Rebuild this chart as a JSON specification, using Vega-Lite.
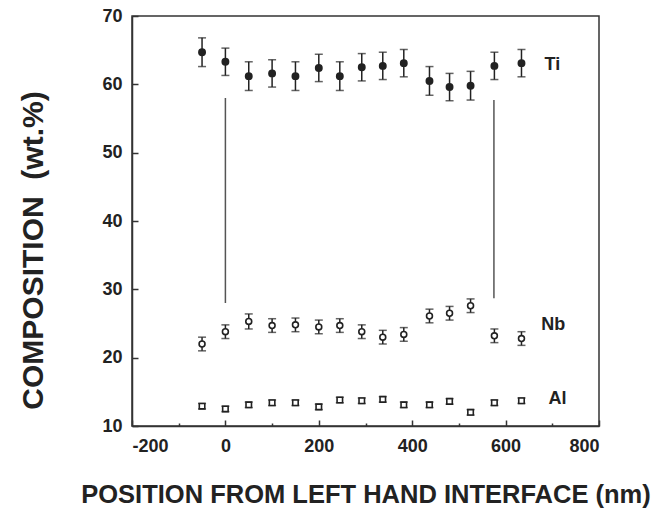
{
  "$schema": "https://vega.github.io/schema/vega-lite/v6.json",
  "width": 467,
  "height": 410,
  "autosize": "none",
  "padding": {"left": 132, "top": 16, "right": 62, "bottom": 89},
  "background": "white",
  "config": {
    "view": {"stroke": "#333", "strokeWidth": 1.5},
    "font": "Liberation Sans",
    "axis": {
      "domainColor": "#333", "domainWidth": 1.5, "tickColor": "#333", "tickWidth": 1.5,
      "labelFont": "Liberation Sans", "labelFontWeight": "bold", "labelFontSize": 18, "labelColor": "#222",
      "titleFont": "Liberation Sans", "titleColor": "#222", "grid": false
    }
  },
  "datasets": {
    "pts": [
      {"el": "Ti", "x": -50, "y": 64.7, "lo": 62.6, "hi": 66.8},
      {"el": "Ti", "x": 0, "y": 63.3, "lo": 61.3, "hi": 65.3},
      {"el": "Ti", "x": 50, "y": 61.2, "lo": 59.1, "hi": 63.3},
      {"el": "Ti", "x": 100, "y": 61.6, "lo": 59.6, "hi": 63.6},
      {"el": "Ti", "x": 150, "y": 61.2, "lo": 59.1, "hi": 63.3},
      {"el": "Ti", "x": 200, "y": 62.4, "lo": 60.4, "hi": 64.4},
      {"el": "Ti", "x": 245, "y": 61.2, "lo": 59.1, "hi": 63.3},
      {"el": "Ti", "x": 292, "y": 62.5, "lo": 60.5, "hi": 64.5},
      {"el": "Ti", "x": 337, "y": 62.7, "lo": 60.7, "hi": 64.7},
      {"el": "Ti", "x": 382, "y": 63.1, "lo": 61.1, "hi": 65.1},
      {"el": "Ti", "x": 437, "y": 60.5, "lo": 58.4, "hi": 62.6},
      {"el": "Ti", "x": 480, "y": 59.6, "lo": 57.6, "hi": 61.6},
      {"el": "Ti", "x": 525, "y": 59.8, "lo": 57.7, "hi": 61.9},
      {"el": "Ti", "x": 576, "y": 62.7, "lo": 60.7, "hi": 64.7},
      {"el": "Ti", "x": 634, "y": 63.1, "lo": 61.1, "hi": 65.1},
      {"el": "Nb", "x": -50, "y": 22.0, "lo": 21.0, "hi": 23.0},
      {"el": "Nb", "x": 0, "y": 23.8, "lo": 22.8, "hi": 24.8},
      {"el": "Nb", "x": 50, "y": 25.3, "lo": 24.2, "hi": 26.4},
      {"el": "Nb", "x": 100, "y": 24.7, "lo": 23.7, "hi": 25.7},
      {"el": "Nb", "x": 150, "y": 24.8, "lo": 23.8, "hi": 25.8},
      {"el": "Nb", "x": 200, "y": 24.5, "lo": 23.5, "hi": 25.5},
      {"el": "Nb", "x": 245, "y": 24.7, "lo": 23.7, "hi": 25.7},
      {"el": "Nb", "x": 292, "y": 23.8, "lo": 22.8, "hi": 24.8},
      {"el": "Nb", "x": 337, "y": 23.0, "lo": 22.0, "hi": 24.0},
      {"el": "Nb", "x": 382, "y": 23.4, "lo": 22.4, "hi": 24.4},
      {"el": "Nb", "x": 437, "y": 26.1, "lo": 25.1, "hi": 27.1},
      {"el": "Nb", "x": 480, "y": 26.5, "lo": 25.5, "hi": 27.5},
      {"el": "Nb", "x": 525, "y": 27.6, "lo": 26.6, "hi": 28.6},
      {"el": "Nb", "x": 576, "y": 23.2, "lo": 22.2, "hi": 24.2},
      {"el": "Nb", "x": 634, "y": 22.8, "lo": 21.8, "hi": 23.8},
      {"el": "Al", "x": -50, "y": 12.9, "lo": 12.5, "hi": 13.3},
      {"el": "Al", "x": 0, "y": 12.5, "lo": 12.1, "hi": 12.9},
      {"el": "Al", "x": 50, "y": 13.1, "lo": 12.7, "hi": 13.5},
      {"el": "Al", "x": 100, "y": 13.4, "lo": 13.0, "hi": 13.8},
      {"el": "Al", "x": 150, "y": 13.4, "lo": 13.0, "hi": 13.8},
      {"el": "Al", "x": 200, "y": 12.8, "lo": 12.4, "hi": 13.2},
      {"el": "Al", "x": 245, "y": 13.8, "lo": 13.4, "hi": 14.2},
      {"el": "Al", "x": 292, "y": 13.7, "lo": 13.3, "hi": 14.1},
      {"el": "Al", "x": 337, "y": 13.9, "lo": 13.5, "hi": 14.3},
      {"el": "Al", "x": 382, "y": 13.1, "lo": 12.7, "hi": 13.5},
      {"el": "Al", "x": 437, "y": 13.1, "lo": 12.7, "hi": 13.5},
      {"el": "Al", "x": 480, "y": 13.6, "lo": 13.2, "hi": 14.0},
      {"el": "Al", "x": 525, "y": 12.0, "lo": 11.6, "hi": 12.4},
      {"el": "Al", "x": 576, "y": 13.4, "lo": 13.0, "hi": 13.8},
      {"el": "Al", "x": 634, "y": 13.7, "lo": 13.3, "hi": 14.1}
    ],
    "vlines": [
      {"x": 0, "y": 28.0, "y2": 58.0},
      {"x": 575, "y": 28.7, "y2": 57.7}
    ],
    "labels": [
      {"t": "Ti", "x": 700, "y": 62.8},
      {"t": "Nb", "x": 702, "y": 24.8},
      {"t": "Al", "x": 711, "y": 14.0}
    ]
  },
  "layer": [
    {
      "data": {"name": "vlines"},
      "mark": {"type": "rule", "color": "#555", "strokeWidth": 1.5},
      "encoding": {
        "x": {"field": "x", "type": "quantitative", "scale": {"domain": [-200, 800], "nice": false, "zero": false},
          "axis": {
            "values": [-200, -100, 0, 100, 200, 300, 400, 500, 600, 700, 800],
            "labelExpr": "datum.value % 200 === 0 ? '' + datum.value : ''",
            "tickSize": {"condition": {"test": "datum.value % 200 === 0", "value": -6}, "value": -3},
            "labelPadding": 17,
            "title": "POSITION FROM LEFT HAND INTERFACE (nm)",
            "titleFontSize": 25.5, "titleFontWeight": "bold",
            "titleY": 68, "titleAlign": "center", "titleBaseline": "middle"
          }},
        "y": {"field": "y", "type": "quantitative", "scale": {"domain": [10, 70], "nice": false, "zero": false},
          "axis": {
            "values": [10, 15, 20, 25, 30, 35, 40, 45, 50, 55, 60, 65, 70],
            "labelExpr": "datum.value % 10 === 0 ? datum.label : ''",
            "tickSize": {"condition": {"test": "datum.value % 10 === 0", "value": -6}, "value": -3},
            "labelPadding": 16,
            "title": "COMPOSITION\u00a0\u00a0(wt.%)",
            "titleFontSize": 30, "titleFontWeight": "bold",
            "titleAngle": 270, "titleX": -99, "titleY": 234, "titleAlign": "center", "titleBaseline": "middle"
          }},
        "y2": {"field": "y2"}
      }
    },
    {
      "data": {"name": "pts"},
      "mark": {"type": "rule", "color": "#222", "strokeWidth": 1.5},
      "encoding": {
        "x": {"field": "x", "type": "quantitative"},
        "y": {"field": "lo", "type": "quantitative"},
        "y2": {"field": "hi"}
      }
    },
    {
      "data": {"name": "pts"},
      "mark": {"type": "tick", "orient": "horizontal", "color": "#222", "thickness": 1.5, "size": 8},
      "encoding": {
        "x": {"field": "x", "type": "quantitative"},
        "y": {"field": "lo", "type": "quantitative"}
      }
    },
    {
      "data": {"name": "pts"},
      "mark": {"type": "tick", "orient": "horizontal", "color": "#222", "thickness": 1.5, "size": 8},
      "encoding": {
        "x": {"field": "x", "type": "quantitative"},
        "y": {"field": "hi", "type": "quantitative"}
      }
    },
    {
      "data": {"name": "pts"},
      "mark": {"type": "point", "filled": false, "stroke": "#222", "strokeWidth": 1.6, "opacity": 1},
      "encoding": {
        "x": {"field": "x", "type": "quantitative"},
        "y": {"field": "y", "type": "quantitative"},
        "shape": {"field": "el", "type": "nominal", "scale": {"domain": ["Ti", "Nb", "Al"], "range": ["circle", "circle", "square"]}, "legend": null},
        "fill": {"field": "el", "type": "nominal", "scale": {"domain": ["Ti", "Nb", "Al"], "range": ["#222", "white", "white"]}, "legend": null},
        "size": {"field": "el", "type": "nominal", "scale": {"domain": ["Ti", "Nb", "Al"], "range": [40, 30, 26]}, "legend": null}
      }
    },
    {
      "data": {"name": "labels"},
      "mark": {"type": "text", "font": "Liberation Sans", "fontWeight": "bold", "fontSize": 18, "color": "#222", "align": "center", "baseline": "middle"},
      "encoding": {
        "x": {"field": "x", "type": "quantitative"},
        "y": {"field": "y", "type": "quantitative"},
        "text": {"field": "t"}
      }
    }
  ]
}
